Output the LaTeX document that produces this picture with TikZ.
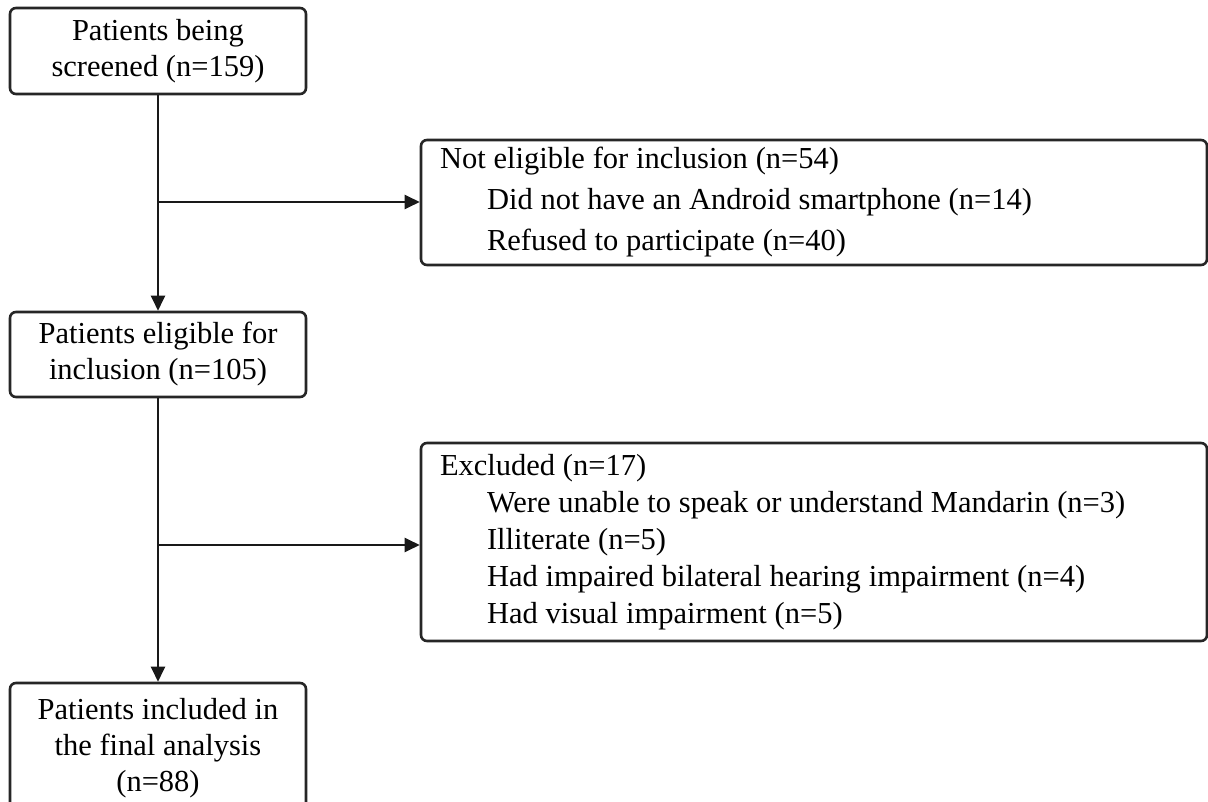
\documentclass[tikz,border=0pt]{standalone}
\usepackage{fontspec}
\setmainfont{Liberation Serif}
\usetikzlibrary{arrows.meta}
\newcommand\tightsp{\spaceskip=0.255em\relax}
\begin{document}
\begin{tikzpicture}[x=1pt,y=-1pt,
  box/.style={draw=black!85, line width=2.6pt, rounded corners=6pt, inner sep=0pt,
    font=\fontsize{30.5}{36}\selectfont},
  leftbox/.style={box, minimum width=296pt, align=center},
  rightbox/.style={box, minimum width=786pt, text width=748pt, align=left},
  arr/.style={line width=2.4pt, draw=black!90, -{Triangle[length=15pt,width=14pt]}},
  ln/.style={line width=2.4pt, draw=black!90}]
\useasboundingbox (0,0) rectangle (1208,802);
\clip (0,0) rectangle (1208,802);
\node[leftbox, minimum height=86pt] (b1) at (158,51) {Patients being\\screened (n=159)};
\node[leftbox, minimum height=85pt] (b2) at (158,354.5) {Patients eligible for\\inclusion (n=105)};
\node[leftbox, minimum height=130pt] (b3) at (158,748) {Patients included in\\the final analysis\\(n=88)};
\node[rightbox, minimum height=125pt, font=\fontsize{30.5}{41}\selectfont] (ne) at (814,202.5)
  {\tightsp Not eligible for inclusion (n=54)\\
   \hspace*{47pt}Did not have an Android smartphone (n=14)\\
   \hspace*{47pt}Refused to participate (n=40)};
\node[rightbox, minimum height=198pt, font=\fontsize{30.5}{37}\selectfont] (ex) at (814,542)
  {\tightsp Excluded (n=17)\\
   \hspace*{47pt}Were unable to speak or understand Mandarin (n=3)\\
   \hspace*{47pt}Illiterate (n=5)\\
   \hspace*{47pt}Had impaired bilateral hearing impairment (n=4)\\
   \hspace*{47pt}Had visual impairment (n=5)};
\draw[arr] (b1.south) -- (b2.north);
\draw[arr] (b2.south) -- (b3.north);
\coordinate (j1) at (158,202);
\coordinate (j2) at (158,545);
\draw[arr] (j1) -- (ne.west |- j1);
\draw[arr] (j2) -- (ex.west |- j2);
\end{tikzpicture}
\end{document}
